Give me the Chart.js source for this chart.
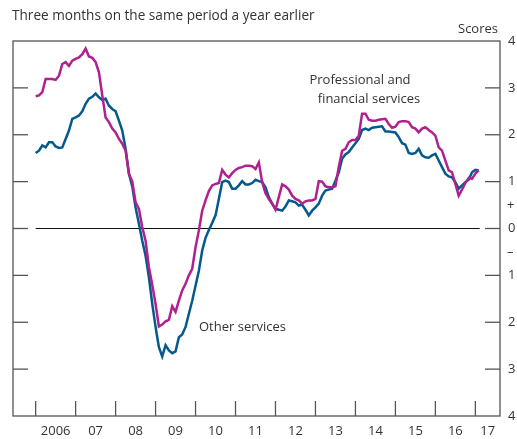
<!DOCTYPE html>
<html>
<head>
<meta charset="utf-8">
<script src="https://cdn.jsdelivr.net/npm/chart.js@4"></script>
<style>
  body { margin: 0; background: #fff; }
  canvas { display: block; }
</style>
</head>
<body>
<canvas id="chart" width="517" height="439"></canvas>
<script>
// monthly, Jan 2006 .. Feb 2017
const months = [];
for (let i = 0; i < 134; i++) {
    months.push((2006 + Math.floor(i / 12)) + '-' + String(i % 12 + 1).padStart(2, '0'));
}

// magenta line
const profFin = [
    2.82, 2.84, 2.91, 3.19, 3.19, 3.19, 3.17, 3.26, 3.51, 3.55, 3.47, 3.58,
    3.62, 3.65, 3.72, 3.84, 3.67, 3.64, 3.55, 3.33, 2.84, 2.37, 2.27, 2.13,
    2.05, 1.91, 1.81, 1.66, 1.17, 1.0, 0.56, 0.42, 0.03, -0.26, -0.82, -1.2,
    -1.61, -2.09, -2.05, -1.98, -1.95, -1.66, -1.78, -1.54, -1.32, -1.18, -1.0, -0.86,
    -0.4, -0.04, 0.38, 0.6, 0.8, 0.92, 0.95, 0.97, 1.25, 1.15, 1.09, 1.18,
    1.25, 1.29, 1.31, 1.34, 1.34, 1.33, 1.27, 1.41, 0.99, 0.75, 0.63, 0.53,
    0.4, 0.67, 0.94, 0.9, 0.83, 0.7, 0.63, 0.6, 0.53, 0.58, 0.6, 0.6,
    0.63, 1.01, 1.0, 0.9, 0.88, 0.88, 0.9, 1.31, 1.66, 1.7, 1.84, 1.89,
    1.89, 1.98, 2.45, 2.45, 2.32, 2.3, 2.3, 2.32, 2.33, 2.34, 2.23, 2.15,
    2.17, 2.27, 2.29, 2.29, 2.27, 2.16, 2.13, 2.05, 2.13, 2.16, 2.1, 2.05,
    1.98, 1.73, 1.66, 1.45, 1.24, 1.2, 0.95, 0.7, 0.83, 0.97, 1.08, 1.06,
    1.17, 1.24
];

// blue line
const other = [
    1.61, 1.66, 1.77, 1.73, 1.84, 1.84, 1.75, 1.72, 1.73, 1.91, 2.09, 2.34,
    2.37, 2.41, 2.5, 2.66, 2.77, 2.81, 2.88, 2.8, 2.74, 2.77, 2.62, 2.55,
    2.5, 2.3, 2.09, 1.7, 1.17, 0.9, 0.45, 0.1, -0.26, -0.58, -1.04, -1.61,
    -2.1, -2.53, -2.73, -2.49, -2.6, -2.66, -2.62, -2.32, -2.26, -2.1, -1.82, -1.54,
    -1.22, -0.9, -0.47, -0.2, -0.03, 0.12, 0.28, 0.63, 0.99, 1.02, 0.99, 0.85,
    0.85, 0.92, 1.01, 0.94, 0.94, 0.97, 1.04, 1.01, 0.99, 0.88, 0.67, 0.53,
    0.42, 0.4, 0.38, 0.47, 0.6, 0.58, 0.56, 0.49, 0.51, 0.4, 0.28, 0.38,
    0.45, 0.53, 0.7, 0.81, 0.83, 0.85, 1.02, 1.2, 1.49, 1.58, 1.63, 1.73,
    1.82, 1.91, 2.1, 2.13, 2.1, 2.15, 2.16, 2.17, 2.18, 2.07, 2.07, 2.06,
    2.05, 1.95, 1.82, 1.79, 1.61, 1.59, 1.61, 1.7, 1.56, 1.52, 1.51, 1.56,
    1.59, 1.45, 1.31, 1.17, 1.11, 1.09, 0.99, 0.85, 0.92, 0.99, 1.04, 1.2,
    1.25, 1.24
];

const yearLabels = ['2006', '07', '08', '09', '10', '11', '12', '13', '14', '15', '16', '17'];
const yTicks = [4, 3, 2, 1, 0, -1, -2, -3, -4];

const X_MIN = -6.8, X_MAX = 139.4;
const TXT = '#333';
const FONT = '13px "Open Sans", "Noto Sans", sans-serif';

function seg(ctx, x1, y1, x2, y2) {
    ctx.beginPath();
    ctx.moveTo(x1, y1);
    ctx.lineTo(x2, y2);
    ctx.stroke();
}

const frame = {
    id: 'frame',
    beforeDatasetsDraw(chart) {
        const { ctx, chartArea: a, scales: { x, y } } = chart;
        ctx.save();
        ctx.strokeStyle = '#555';
        ctx.lineWidth = 1.3;
        ctx.strokeRect(a.left, a.top, a.right - a.left, a.bottom - a.top);

        // inner ticks both sides
        yTicks.forEach(v => {
            if (Math.abs(v) >= 4) return;
            const py = y.getPixelForValue(v);
            seg(ctx, a.left, py, a.left + 15, py);
            seg(ctx, a.right - 15, py, a.right, py);
        });

        // year ticks
        for (let m = 0; m <= 132; m += 12) {
            const px = x.getPixelForValue(m);
            seg(ctx, px, a.bottom, px, a.bottom - 15);
        }

        // zero line
        ctx.strokeStyle = '#111';
        ctx.lineWidth = 1.2;
        const y0 = y.getPixelForValue(0);
        seg(ctx, x.getPixelForValue(0), y0, x.getPixelForValue(133.3), y0);
        ctx.restore();
    },
    afterDraw(chart) {
        const { ctx, chartArea: a, scales: { x, y } } = chart;
        ctx.save();
        ctx.fillStyle = TXT;
        ctx.font = FONT;

        ctx.textBaseline = 'middle';
        ctx.textAlign = 'left';
        ctx.font = '13.6px "Open Sans", "Noto Sans", sans-serif';
        ctx.fillText('Three months on the same period a year earlier', 12, 16);
        ctx.font = FONT;
        ctx.textAlign = 'right';
        ctx.fillText('Scores', 498, 29);

        // right axis labels
        ctx.textAlign = 'left';
        yTicks.forEach(v => {
            ctx.fillText(String(Math.abs(v)), a.right + 8, y.getPixelForValue(v));
        });
        ctx.fillText('+', a.right + 7, y.getPixelForValue(0.5));
        ctx.fillText('\u2013', a.right + 7, y.getPixelForValue(-0.5));

        // year labels
        ctx.textAlign = 'center';
        yearLabels.forEach((lab, i) => {
            const m = i < 11 ? i * 12 + 6 : (132 + X_MAX) / 2;
            ctx.fillText(lab, x.getPixelForValue(m), a.bottom + 15);
        });

        // series notes
        ctx.fillText('Professional and', 360, 80);
        ctx.fillText('financial services', 369, 99);
        ctx.textAlign = 'left';
        ctx.fillText('Other services', 199, 327);
        ctx.restore();
    }
};

function toPts(vals) {
    return vals.map((v, i) => ({ x: i, y: v }));
}

const ctx = document.getElementById('chart').getContext('2d');
const myChart = new Chart(ctx, {
    type: 'line',
    data: {
        labels: months,
        datasets: [
            {
                label: 'Professional and financial services',
                data: toPts(profFin),
                borderColor: '#b0208f',
                borderWidth: 2.5,
                pointRadius: 0,
                tension: 0
            },
            {
                label: 'Other services',
                data: toPts(other),
                borderColor: '#045a8d',
                borderWidth: 2.5,
                pointRadius: 0,
                tension: 0
            }
        ]
    },
    options: {
        responsive: false,
        animation: false,
        layout: { padding: { left: 13, right: 17, top: 41, bottom: 23 } },
        plugins: { legend: { display: false }, tooltip: { enabled: false } },
        scales: {
            x: { type: 'linear', min: X_MIN, max: X_MAX, display: false },
            y: { min: -4, max: 4, display: false }
        }
    },
    plugins: [frame]
});
</script>
</body>
</html>
